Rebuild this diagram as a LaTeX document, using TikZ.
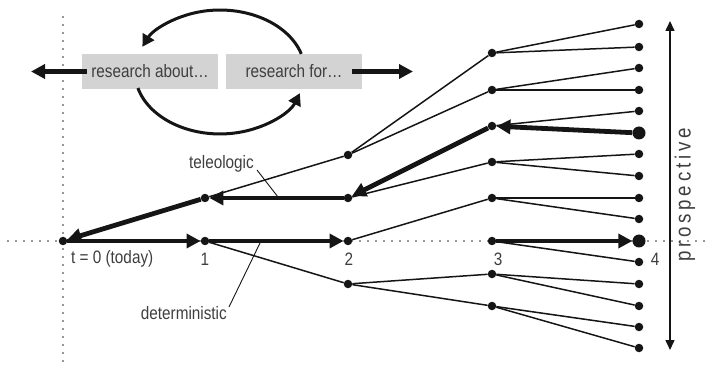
\documentclass[tikz,border=0pt]{standalone}
\usepackage{fontspec}
\setmainfont{Liberation Sans}[FakeStretch=0.85]
\usetikzlibrary{arrows.meta,calc}
\definecolor{ink}{HTML}{151515}
\definecolor{txt}{HTML}{3E3E3E}
\definecolor{boxgray}{HTML}{D3D3D3}
\begin{document}
\begin{tikzpicture}[x=1pt,y=-1pt,
  dot/.style={circle,fill=ink,inner sep=0pt,minimum size=8.5pt},
  bigdot/.style={circle,fill=ink,inner sep=0pt,minimum size=13pt},
  branch/.style={draw=ink,line width=1.5pt},
  bigarrow/.style={draw=ink,line width=4.8pt,-{Triangle[length=14pt,width=14pt]}},
  cyclearrow/.style={draw=ink,line width=3pt,-{Triangle[length=12pt,width=13pt]}},
  timeaxis/.style={draw=ink!90,line width=1.9pt,line cap=round,dash pattern=on 0pt off 8pt},
  lab/.style={text=txt,font=\fontsize{18}{20}\selectfont,inner sep=0pt},
  leader/.style={draw=ink,line width=0.9pt},
  rbox/.style={fill=boxgray,minimum width=136pt,minimum height=35pt,inner sep=0pt,
    text=txt,font=\fontsize{18}{20}\selectfont},
  prosp/.style={draw=ink,line width=1.5pt,{Triangle[length=10pt,width=9pt]}-{Triangle[length=10pt,width=9pt]}}
]
\useasboundingbox (0,0) rectangle (707,374);

% time axes
\coordinate (hx0) at (8,241);
\coordinate (hx1) at (707,241);
\coordinate (vy0) at (63,17);
\coordinate (vy1) at (63,368);
\draw[timeaxis] (hx0) -- (hx1);
\draw[timeaxis] (vy0) -- (vy1);

% research loop
\node[rbox] (ra) at (150,71.5) {research about…};
\node[rbox] (rf) at (294,71.5) {research for…};
\coordinate (lt) at (31,71.5);
\coordinate (rt) at (413,71.5);
\draw[bigarrow] ([xshift=5pt]ra.west) -- (lt);
\draw[bigarrow] ([xshift=-10pt]rf.east) -- (rt);
\coordinate (upS) at (301.3,53.9);
\coordinate (loS) at (137.9,88);
\draw[cyclearrow] (upS) arc[start angle=17,end angle=156,x radius=85pt,y radius=62pt];
\draw[cyclearrow] (loS) arc[start angle=195,end angle=340,x radius=85pt,y radius=62pt];

% tree nodes
\node[dot] (n0) at (63,241) {};
\node[dot] (a1) at (205,241) {};
\node[dot] (b1) at (205,198) {};
\foreach \i/\y in {1/155,2/198,3/241,4/284}
  \node[dot] (c\i) at (348,\y) {};
\foreach \i/\y in {1/53,2/90,3/126,4/162,5/198,6/241,7/274,8/306}
  \node[dot] (d\i) at (492,\y) {};
\foreach \i/\y in {1/24,2/47,3/68,4/90,5/111,7/154,8/176,9/198,10/219,12/262,13/284,14/306,15/327,16/348}
  \node[dot] (e\i) at (639,\y) {};
\node[bigdot] (e6) at (639,133) {};
\node[bigdot] (e11) at (639,241) {};

% branches
\draw[branch] (b1) -- (c1);
\draw[branch] (a1) -- (c4);
\draw[branch] (c1) -- (d1);
\draw[branch] (c1) -- (d2);
\draw[branch] (c2) -- (d4);
\draw[branch] (c3) -- (d5);
\draw[branch] (c4) -- (d7);
\draw[branch] (c4) -- (d8);
\draw[branch] (d1) -- (e1);
\draw[branch] (d1) -- (e2);
\draw[branch] (d2) -- (e3);
\draw[branch] (d2) -- (e4);
\draw[branch] (d3) -- (e5);
\draw[branch] (d4) -- (e7);
\draw[branch] (d4) -- (e8);
\draw[branch] (d5) -- (e9);
\draw[branch] (d5) -- (e10);
\draw[branch] (d6) -- (e12);
\draw[branch] (d7) -- (e13);
\draw[branch] (d7) -- (e14);
\draw[branch] (d8) -- (e15);
\draw[branch] (d8) -- (e16);

% deterministic path
\draw[bigarrow] (n0) -- (a1);
\draw[bigarrow] (a1) -- (c3);
\draw[bigarrow] (d6) -- (e11);

% teleologic path
\draw[bigarrow] (e6) -- (d3);
\draw[bigarrow] (d3) -- (c2);
\draw[bigarrow] (c2) -- (b1);
\draw[bigarrow] (b1) -- (n0);

% time labels
\node[lab,anchor=west] (t0) at (71,259) {t = 0 (today)};
\node[lab] (t1) at (205,259) {1};
\node[lab] (t2) at (349,259) {2};
\node[lab] (t3) at (498,259) {3};
\node[lab] (t4) at (655,259) {4};

% path labels
\node[lab,anchor=east] (tel) at (254,164) {teleologic};
\coordinate (telp) at (278,197);
\draw[leader] ([shift={(3pt,-6pt)}]tel.east) -- (telp);
\node[lab,anchor=east] (det) at (227,313) {deterministic};
\coordinate (detp) at (260,243);
\draw[leader] ([shift={(2pt,6pt)}]det.east) -- (detp);

% prospective axis
\coordinate (pt) at (670,21);
\coordinate (pb) at (670,350);
\draw[prosp] (pb) -- (pt);
\node[lab,rotate=90,font=\fontsize{22}{24}\selectfont] (pl) at (685,195)
  {p\kern3.8pt r\kern3.8pt o\kern3.8pt s\kern3.8pt p\kern3.8pt e\kern3.8pt c\kern3.8pt t\kern3.8pt i\kern3.8pt v\kern3.8pt e};
\end{tikzpicture}
\end{document}
